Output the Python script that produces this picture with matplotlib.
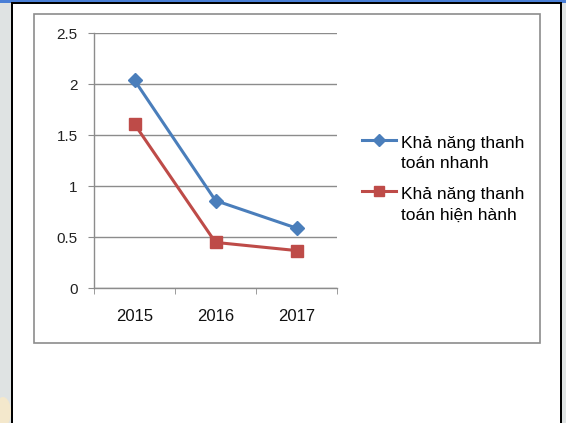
import numpy as np
import matplotlib.pyplot as plt
from matplotlib.patches import Rectangle, Ellipse
from matplotlib.ticker import FixedLocator
from matplotlib.legend_handler import HandlerLine2D

# --- donnees ---
years = ["2015", "2016", "2017"]
quick_ratio = [2.04, 0.86, 0.59]
current_ratio = [1.61, 0.45, 0.37]
labels = ["Khả năng thanh\ntoán nhanh", "Khả năng thanh\ntoán hiện hành"]

W, H = 566, 423
plt.rcParams['font.family'] = ['Liberation Sans', 'DejaVu Sans']

fig = plt.figure(figsize=(W / 100, H / 100), dpi=100)
fig.patch.set_facecolor("white")


def box(x0, y0, x1, y1, **kw):
    # rectangle en pixels (origine en haut a gauche)
    r = Rectangle((x0 / W, 1 - y1 / H), (x1 - x0) / W, (y1 - y0) / H,
                  transform=fig.transFigure, **kw)
    fig.patches.append(r)


# fond de l'ecran autour du cadre
box(0, 0, 12, H, facecolor="#dfe3e3", edgecolor="none")
box(562, 0, W, H, facecolor="#dfe3e3", edgecolor="none")
fig.patches.append(Ellipse((3 / W, 1 - 412 / H), 16 / W, 30 / H,
                           transform=fig.transFigure, facecolor="#f4e8cc",
                           edgecolor="none"))
box(0, 0, W, 3, facecolor="#4a7fd6", edgecolor="none")
# cadre noir
box(11, 2.5, 13, H, facecolor="black", edgecolor="none")
box(560, 2.5, 562, H, facecolor="black", edgecolor="none")
box(11, 2.5, 562, 4.3, facecolor="black", edgecolor="none")
# cadre du graphique
box(34, 14, 540, 343, facecolor="none", edgecolor="#8c8c8c", linewidth=1.2)

# --- axes ---
x0, x1, ytop, ybot = 94, 337, 33.3, 288.3
ax = fig.add_axes([x0 / W, 1 - ybot / H, (x1 - x0) / W, (ybot - ytop) / H])
ax.set_facecolor("none")

x = np.arange(len(years))
ax.plot(x, quick_ratio, color="#4a7ebb", linewidth=2.2, marker="D",
        markersize=7.5, label=labels[0], zorder=3)
ax.plot(x, current_ratio, color="#be4b48", linewidth=2.2, marker="s",
        markersize=8.5, label=labels[1], zorder=3)

ax.set_xlim(-0.5, len(years) - 0.5)
ax.set_ylim(0, 2.5)
ax.set_yticks([0, 0.5, 1, 1.5, 2, 2.5])
ax.set_yticklabels(["0", "0.5", "1", "1.5", "2", "2.5"])
ax.set_xticks(x)
ax.set_xticklabels(years)
ax.xaxis.set_minor_locator(FixedLocator([-0.5, 0.5, 1.5, 2.5]))

grid_c = "#8c8c8c"
ax.grid(axis="y", color=grid_c, linewidth=1.0)
ax.set_axisbelow(True)
for s in ["top", "right"]:
    ax.spines[s].set_visible(False)
for s in ["left", "bottom"]:
    ax.spines[s].set_color(grid_c)
    ax.spines[s].set_linewidth(1.0)

ax.tick_params(axis="y", direction="out", length=4.3, color=grid_c,
               labelsize=11, pad=7.5, labelcolor="#222222")
ax.tick_params(axis="x", which="major", length=0, labelsize=12, pad=15,
               labelcolor="#111111")
ax.tick_params(axis="x", which="minor", direction="out", length=4.3,
               color=grid_c)


# la poignee de legende est alignee sur la premiere ligne du texte
class TopLine(HandlerLine2D):
    def create_artists(self, legend, orig_handle, xdescent, ydescent,
                       width, height, fontsize, trans):
        return super().create_artists(legend, orig_handle, xdescent,
                                      ydescent - 19.5, width, height,
                                      fontsize, trans)


leg = fig.legend(loc="upper left", bbox_to_anchor=(362 / W, 1 - 136 / H),
                 frameon=False, fontsize=12.5, handlelength=1.95,
                 handletextpad=0.3, labelspacing=0.9, borderpad=0,
                 borderaxespad=0, markerscale=0.85,
                 handler_map={plt.Line2D: TopLine()})
for t in leg.get_texts():
    t.set_linespacing(1.45)

fig.savefig("out.png", dpi=100)
